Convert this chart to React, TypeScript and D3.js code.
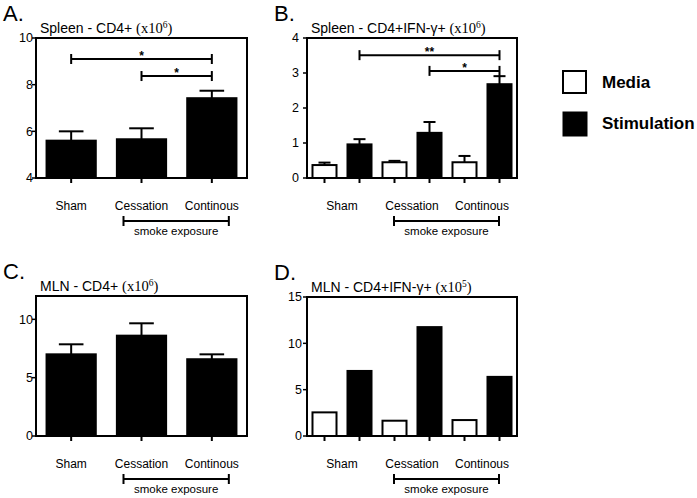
import React from 'react';
import * as d3 from 'd3';

const categories = ['Sham', 'Cessation', 'Continous'];
const seriesNames = ['Media', 'Stimulation'];

// Panel A: Spleen CD4+ (x10^6)
const spleenCD4Mean = [5.6, 5.66, 7.42];
const spleenCD4Err = [0.4, 0.47, 0.32];
const spleenCD4Ticks = [4, 6, 8, 10];
const spleenCD4Sig = [
  { from: 0, to: 2, y: 9.1, label: '*' },
  { from: 1, to: 2, y: 8.37, label: '*' },
];

// Panel B: Spleen CD4+IFN-γ+ (x10^6)
const spleenIFNMedia = [0.37, 0.45, 0.45];
const spleenIFNMediaErr = [0.07, 0.04, 0.18];
const spleenIFNStim = [0.96, 1.29, 2.68];
const spleenIFNStimErr = [0.15, 0.31, 0.23];
const spleenIFNTicks = [0, 1, 2, 3, 4];
const spleenIFNSig = [
  { from: 0, to: 2, y: 3.51, label: '**' },
  { from: 1, to: 2, y: 3.06, label: '*' },
];

// Panel C: MLN CD4+ (x10^6)
const mlnCD4Mean = [7.0, 8.6, 6.58];
const mlnCD4Err = [0.86, 1.06, 0.42];
const mlnCD4Ticks = [0, 5, 10];

// Panel D: MLN CD4+IFN-γ+ (x10^5)
const mlnIFNMedia = [2.55, 1.65, 1.72];
const mlnIFNStim = [7.02, 11.75, 6.38];
const mlnIFNTicks = [0, 5, 10, 15];

const SANS = '"Liberation Sans", Arial, Helvetica, sans-serif';
const SERIF = '"Liberation Serif", "Times New Roman", serif';

type Bar = { cat: number; series: number; value: number; err?: number };
type Sig = { from: number; to: number; y: number; label: string };

function Panel(props: {
  letter: string;
  titleMain: string;
  exp: string;
  left: number; right: number; top: number; bottom: number;
  domain: [number, number];
  ticks: number[];
  bars: Bar[];
  grouped: boolean;
  sig?: Sig[];
  labelGap: number;
}) {
  const { left, right, top, bottom, domain, ticks, bars, grouped, sig, labelGap } = props;
  const x = d3.scaleBand<string>().domain(categories).range([left, right]).padding(0);
  const inner = d3.scaleBand<string>().domain(seriesNames).range([0, x.bandwidth()]).paddingInner(0.314).paddingOuter(0.157);
  const y = d3.scaleLinear().domain(domain).range([bottom, top]);
  const bw = grouped ? inner.bandwidth() : x.bandwidth() * 0.7;
  const cx = (b: { cat: number; series: number }) => {
    const x0 = x(categories[b.cat])!;
    if (!grouped) return x0 + x.bandwidth() / 2;
    return x0 + inner(seriesNames[b.series])! + inner.bandwidth() / 2;
  };
  const sigSeries = grouped ? 1 : 0;
  const bx0 = x(categories[1])! + x.bandwidth() / 2 - 18;
  const bx1 = x(categories[2])! + x.bandwidth() / 2 + 17;
  const by = bottom + 43;
  return (
    <g>
      <text x={left - 33} y={top - 17} fontFamily={SANS} fontSize={22}>{props.letter}</text>
      <text x={left + 4} y={top - 5} fontFamily={SANS} fontSize={14}>
        {props.titleMain}
        <tspan fontFamily={SERIF} fontSize={14.5}>(x10</tspan>
        <tspan fontFamily={SERIF} fontSize={9.5} dy={-5}>{props.exp}</tspan>
        <tspan fontFamily={SERIF} fontSize={14.5} dy={5}>)</tspan>
      </text>
      {bars.map((b, i) => {
        const c = cx(b);
        return (
          <g key={i}>
            {b.err !== undefined && (
              <g stroke="#000" strokeWidth={2}>
                <line x1={c} x2={c} y1={y(b.value)} y2={y(b.value + b.err)} />
                <line x1={c - bw / 4} x2={c + bw / 4} y1={y(b.value + b.err)} y2={y(b.value + b.err)} />
              </g>
            )}
            <rect x={c - bw / 2} y={y(b.value)} width={bw} height={bottom - y(b.value)}
              fill={b.series === 1 || !grouped ? '#000' : '#fff'} stroke="#000" strokeWidth={2} />
            <line x1={c} x2={c} y1={bottom} y2={bottom + 5} stroke="#000" strokeWidth={2} />
          </g>
        );
      })}
      <rect x={left} y={top} width={right - left} height={bottom - top} fill="none" stroke="#000" strokeWidth={2} />
      {ticks.map((t) => (
        <g key={t}>
          <line x1={left - 4} x2={left} y1={y(t)} y2={y(t)} stroke="#000" strokeWidth={1.5} />
          <text x={left - labelGap} y={y(t)} dy="0.35em" textAnchor="end" fontFamily={SANS} fontSize={12.5}>{t}</text>
        </g>
      ))}
      {categories.map((c) => (
        <text key={c} x={x(c)! + x.bandwidth() / 2} y={bottom + 28} dy="0.35em" textAnchor="middle" fontFamily={SANS} fontSize={12}>{c}</text>
      ))}
      <g stroke="#000" strokeWidth={2}>
        <line x1={bx0} x2={bx1} y1={by} y2={by} />
        <line x1={bx0} x2={bx0} y1={by - 5} y2={by + 5} />
        <line x1={bx1} x2={bx1} y1={by - 5} y2={by + 5} />
      </g>
      <text x={(bx0 + bx1) / 2} y={by + 10} dy="0.35em" textAnchor="middle" fontFamily={SANS} fontSize={11.5}>smoke exposure</text>
      {(sig || []).map((s, i) => {
        const x1 = cx({ cat: s.from, series: sigSeries });
        const x2 = cx({ cat: s.to, series: sigSeries });
        const yy = y(s.y);
        return (
          <g key={i}>
            <g stroke="#000" strokeWidth={2}>
              <line x1={x1} x2={x2} y1={yy} y2={yy} />
              <line x1={x1} x2={x1} y1={yy - 5} y2={yy + 5} />
              <line x1={x2} x2={x2} y1={yy - 5} y2={yy + 5} />
            </g>
            <text x={(x1 + x2) / 2} y={yy + 1} textAnchor="middle" fontFamily={SANS} fontWeight="bold" fontSize={12}>{s.label}</text>
          </g>
        );
      })}
    </g>
  );
}

export default function App() {
  const barsA: Bar[] = spleenCD4Mean.map((v, i) => ({ cat: i, series: 1, value: v, err: spleenCD4Err[i] }));
  const barsB: Bar[] = [];
  categories.forEach((_, i) => {
    barsB.push({ cat: i, series: 0, value: spleenIFNMedia[i], err: spleenIFNMediaErr[i] });
    barsB.push({ cat: i, series: 1, value: spleenIFNStim[i], err: spleenIFNStimErr[i] });
  });
  const barsC: Bar[] = mlnCD4Mean.map((v, i) => ({ cat: i, series: 1, value: v, err: mlnCD4Err[i] }));
  const barsD: Bar[] = [];
  categories.forEach((_, i) => {
    barsD.push({ cat: i, series: 0, value: mlnIFNMedia[i] });
    barsD.push({ cat: i, series: 1, value: mlnIFNStim[i] });
  });
  return (
    <svg width={697} height={498} style={{ position: 'absolute', left: 0, top: 0, background: '#fff' }}>
      <rect width={697} height={498} fill="#fff" />
      <Panel letter="A." titleMain="Spleen - CD4+  " exp="6" left={36} right={247} top={38} bottom={178}
        domain={[4, 10]} ticks={spleenCD4Ticks} bars={barsA} grouped={false} sig={spleenCD4Sig} labelGap={3} />
      <Panel letter="B." titleMain="Spleen - CD4+IFN-γ+ " exp="6" left={307} right={517} top={38} bottom={178}
        domain={[0, 4]} ticks={spleenIFNTicks} bars={barsB} grouped={true} sig={spleenIFNSig} labelGap={8} />
      <Panel letter="C." titleMain="MLN - CD4+ " exp="6" left={36} right={247} top={296} bottom={436}
        domain={[0, 12]} ticks={mlnCD4Ticks} bars={barsC} grouped={false} labelGap={3} />
      <Panel letter="D." titleMain="MLN - CD4+IFN-γ+ " exp="5" left={307} right={517} top={297} bottom={436}
        domain={[0, 15]} ticks={mlnIFNTicks} bars={barsD} grouped={true} labelGap={5} />
      <g>
        <rect x={563} y={71} width={23} height={22} fill="#fff" stroke="#000" strokeWidth={2} />
        <text x={602} y={82} dy="0.35em" fontFamily={SANS} fontWeight="bold" fontSize={17}>{seriesNames[0]}</text>
        <rect x={563} y={112} width={24} height={24} fill="#000" stroke="#000" strokeWidth={1} />
        <text x={602} y={123} dy="0.35em" fontFamily={SANS} fontWeight="bold" fontSize={17}>{seriesNames[1]}</text>
      </g>
    </svg>
  );
}
